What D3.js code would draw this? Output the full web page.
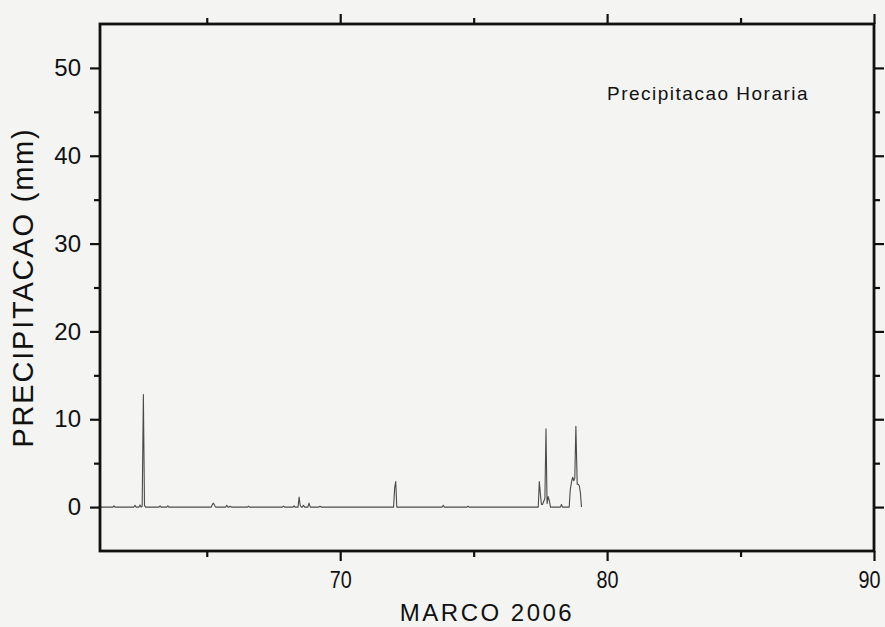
<!DOCTYPE html>
<html>
<head>
<meta charset="utf-8">
<script src="https://cdn.jsdelivr.net/npm/d3@7"></script>
<style>
  html, body { margin: 0; padding: 0; background: #f4f4f2; }
  svg { display: block; }
</style>
</head>
<body>
<svg id="chart" width="885" height="627"></svg>
<script>
// Hourly precipitation, March 2006 (decimal day of year vs mm)
const dias = [
  61.00, 61.48, 61.52, 61.56, 62.27, 62.31, 62.35, 62.46, 62.50, 62.54,
  62.58, 62.625, 62.667, 62.71, 63.21, 63.25, 63.29, 63.50, 63.54, 63.58,
  65.17, 65.21, 65.25, 65.29, 65.33, 65.71, 65.75, 65.79, 65.83, 65.87,
  65.92, 66.52, 66.56, 66.60, 67.83, 67.87, 67.92, 68.23, 68.27, 68.31,
  68.42, 68.46, 68.50, 68.54, 68.58, 68.62, 68.67, 68.79, 68.83, 68.88,
  69.20, 69.24, 69.29, 72.00, 72.04, 72.08, 72.12, 73.82, 73.86, 73.90,
  74.75, 74.79, 74.83, 77.42, 77.46, 77.50, 77.54, 77.58, 77.62, 77.67,
  77.71, 77.75, 77.79, 77.83, 77.88, 78.25, 78.29, 78.33, 78.58, 78.62,
  78.67, 78.71, 78.75, 78.79, 78.83, 78.88, 78.92, 78.96, 79.00, 79.04
];
const chuva = [
  0, 0, 0.15, 0, 0, 0.2, 0, 0, 0.25, 0,
  0.1, 12.8, 0.2, 0, 0, 0.15, 0, 0, 0.15, 0,
  0, 0.3, 0.45, 0.2, 0, 0, 0.2, 0, 0, 0.1,
  0, 0, 0.1, 0, 0, 0.1, 0, 0, 0.15, 0,
  0, 1.15, 0.2, 0, 0, 0.2, 0, 0, 0.45, 0,
  0, 0.1, 0, 0, 2.2, 2.9, 0, 0, 0.2, 0,
  0, 0.1, 0, 0, 2.9, 1.5, 0.3, 0.3, 0.6, 1.0,
  8.9, 0.4, 1.2, 0.8, 0, 0, 0.3, 0, 0, 2.0,
  2.9, 3.4, 3.0, 3.3, 9.2, 2.6, 2.6, 2.4, 1.6, 0
];

// Axis ticks
const xMajor = [70, 80, 90];
const xMinor = [65, 75, 85];
const yMajor = [0, 10, 20, 30, 40, 50];
const yMinor = [5, 15, 25, 35, 45];

const xLabel = "MARCO 2006";
const yLabel = "PRECIPITACAO (mm)";
const legendText = "Precipitacao Horaria";

const svg = d3.select("#chart");
const mLeft = 100, mRight = 874, mTop = 24, mBottom = 551;

const x = d3.scaleLinear().domain([61, 90]).range([mLeft, mRight]);
const y = d3.scaleLinear().domain([-5, 55]).range([mBottom, mTop]);

const ink = "#111";
const font = "'Liberation Sans', Arial, Helvetica, sans-serif";

// Series line
const pts = dias.map((d, i) => [d, chuva[i]]);
svg.append("path")
  .datum(pts)
  .attr("fill", "none")
  .attr("stroke", "#4a4a4a")
  .attr("stroke-width", 1.1)
  .attr("stroke-linejoin", "round")
  .attr("d", d3.line().x(d => x(d[0])).y(d => y(d[1])));

// Axes: major ticks with labels, minor ticks without
function styleAxis(g) {
  g.select(".domain").remove();
  g.selectAll(".tick line").attr("stroke", ink).attr("stroke-width", 2.2);
  g.selectAll(".tick text").attr("fill", ink).attr("font-family", font);
}

const axes = [
  { make: d3.axisBottom, tr: `translate(0,${mBottom})`, scale: x, major: xMajor, minor: xMinor, labels: true },
  { make: d3.axisTop, tr: `translate(0,${mTop})`, scale: x, major: xMajor, minor: xMinor, labels: false },
  { make: d3.axisLeft, tr: `translate(${mLeft},0)`, scale: y, major: yMajor, minor: yMinor, labels: true },
  { make: d3.axisRight, tr: `translate(${mRight},0)`, scale: y, major: yMajor, minor: yMinor, labels: false }
];

axes.forEach(a => {
  const gMaj = svg.append("g").attr("transform", a.tr)
    .call(a.make(a.scale).tickValues(a.major).tickSize(10).tickPadding(6)
      .tickFormat(a.labels ? d3.format("d") : () => ""));
  styleAxis(gMaj);
  const gMin = svg.append("g").attr("transform", a.tr)
    .call(a.make(a.scale).tickValues(a.minor).tickSize(6).tickFormat(() => ""));
  styleAxis(gMin);
  if (a.make === d3.axisBottom) {
    // condensed day labels; the last one is nudged inside the page edge
    gMaj.selectAll(".tick text")
      .attr("font-size", 24)
      .attr("textLength", 22).attr("lengthAdjust", "spacingAndGlyphs")
      .attr("dy", "0.71em").attr("y", 20)
      .attr("x", d => d === 90 ? -5 : 0);
  } else if (a.make === d3.axisLeft) {
    gMaj.selectAll(".tick text").attr("font-size", 24).attr("x", -19);
  }
});

// Frame
svg.append("rect")
  .attr("x", mLeft).attr("y", mTop)
  .attr("width", mRight - mLeft).attr("height", mBottom - mTop)
  .attr("fill", "none").attr("stroke", ink).attr("stroke-width", 2.8);

// Axis titles
svg.append("text")
  .attr("x", (mLeft + mRight) / 2).attr("y", 621)
  .attr("text-anchor", "middle")
  .attr("font-family", font).attr("font-size", 24)
  .attr("letter-spacing", "2.5px")
  .attr("fill", ink)
  .text(xLabel);

svg.append("text")
  .attr("transform", `translate(33,${(mTop + mBottom) / 2}) rotate(-90)`)
  .attr("text-anchor", "middle")
  .attr("font-family", font).attr("font-size", 29)
  .attr("letter-spacing", "1.8px")
  .attr("fill", ink)
  .text(yLabel);

// Series caption
svg.append("text")
  .attr("x", 607).attr("y", 100)
  .attr("font-family", font).attr("font-size", 19)
  .attr("letter-spacing", "1.5px")
  .attr("fill", ink)
  .text(legendText);
</script>
</body>
</html>
